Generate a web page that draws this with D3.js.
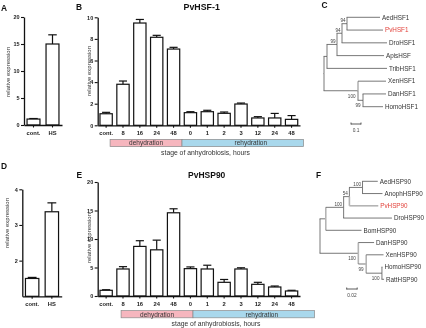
<!DOCTYPE html>
<html>
<head>
<meta charset="utf-8">
<script src="https://cdn.jsdelivr.net/npm/d3@7"></script>
<style>
  html, body { margin: 0; padding: 0; background: #fff; }
  #chart { width: 426px; height: 328px; }
  svg { will-change: transform; -webkit-font-smoothing: antialiased; }
</style>
</head>
<body>
<div id="chart"></div>
<script>
// --------------------
// DATA
// --------------------
const shockCats = ["cont.", "HS"];
const hsfShock = [1.1, 15.0];
const hsfShockErr = [1.2, 16.7];
const hspShock = [1.5, 3.37];
const hspShockErr = [1.53, 3.62];

const stageCats = ["cont.", "8", "16", "24", "48", "0", "1", "2", "3", "12", "24", "48"];
const hsfStage = [1.07, 3.8, 9.47, 8.15, 7.06, 1.17, 1.26, 1.11, 1.97, 0.68, 0.68, 0.55];
const hsfStageErr = [1.2, 4.1, 9.8, 8.33, 7.22, 1.26, 1.39, 1.23, 2.06, 0.8, 1.1, 0.9];
const hspStage = [1.0, 4.74, 8.7, 8.1, 14.6, 4.8, 4.74, 2.4, 4.74, 2.05, 1.58, 0.88];
const hspStageErr = [1.1, 5.15, 9.7, 9.8, 15.3, 5.1, 5.4, 2.9, 4.95, 2.4, 1.75, 1.0];

const phases = ["dehydration", "rehydration"];
const phaseFrom = [1, 5];
const phaseTo = [4, 11];

const ticksA = [0, 5, 10, 15, 20];
const ticksB = [0, 2, 4, 6, 8, 10];
const ticksD = [2, 3, 4];
const ticksE = [0, 5, 10, 15, 20];

// trees, newick; "*" = grey vertical, "**" = grey whole branch
const treeC = "((((((AedHSF1:0.33,PvHSF1:0.36)94:0.05,DroHSF1:0.45)94:0.05,ApisHSF:0.47)99:0.10,TribHSF1:0.60):0.03,(XenHSF1*:0.28,(DanHSF1:0.23,HomoHSF1:0.20)99:0.05)100:0.34);";
const treeF = "(((((AedHSP90:0.029,AnophHSP90:0.038)100:0.025,PvHSP90**:0.055)54:0.011,DroHSP90:0.092)100*:0.034,BomHSP90*:0.068):0.011,(DanHSP90*:0.030,(XenHSP90*:0.033,(HomoHSP90:0.001,RattHSP90:0.004)100*:0.030)99*:0.015)100:0.073);";
const redLeaves = ["PvHSF1", "PvHSP90"];


// --------------------
// SETUP
// --------------------
const width = 426;
const height = 328;
const font = "'Liberation Sans', Arial, sans-serif";
const ink = "#222";

const svg = d3.select("#chart")
  .append("svg")
  .attr("width", width)
  .attr("height", height)
  .style("font-family", font);

svg.append("rect").attr("width", width).attr("height", height).attr("fill", "#fff");


// --------------------
// BAR PANELS
// --------------------
function barPanel(o) {
  const x = d3.scaleBand()
    .domain(d3.range(o.values.length))
    .range(o.xRange)
    .paddingInner(o.pad)
    .paddingOuter(o.pad / 2);

  const y = d3.scaleLinear()
    .domain(o.yDomain)
    .range(o.yRange);

  const g = svg.append("g");
  const bw = x.bandwidth();
  const base = y(o.yDomain[0]);

  // error bars (upper only)
  const err = g.append("g")
    .attr("stroke", "#111")
    .attr("stroke-width", 1.2);
  o.values.forEach((v, i) => {
    const cx = x(i) + bw / 2;
    err.append("line")
      .attr("x1", cx).attr("x2", cx)
      .attr("y1", y(v)).attr("y2", y(o.errs[i]));
    err.append("line")
      .attr("x1", cx - bw * 0.33).attr("x2", cx + bw * 0.33)
      .attr("y1", y(o.errs[i])).attr("y2", y(o.errs[i]));
  });

  g.selectAll("rect.bar")
    .data(o.values)
    .join("rect")
    .attr("class", "bar")
    .attr("x", (d, i) => x(i))
    .attr("y", d => y(d))
    .attr("width", bw)
    .attr("height", d => base - y(d))
    .attr("fill", "#fff")
    .attr("stroke", "#111")
    .attr("stroke-width", 1.2);

  // axes
  const ax = g.append("g")
    .attr("transform", `translate(0,${base})`)
    .call(d3.axisBottom(x)
      .tickSize(2.5)
      .tickSizeOuter(0)
      .tickPadding(3.5)
      .tickFormat(i => o.cats[i]));

  const ay = g.append("g")
    .attr("transform", `translate(${o.xRange[0]},0)`)
    .call(d3.axisLeft(y)
      .tickValues(o.ticks)
      .tickSize(3)
      .tickSizeOuter(0)
      .tickPadding(1.5)
      .tickFormat(d3.format("d")));

  [ax, ay].forEach(a => {
    a.select(".domain").attr("stroke", "#111").attr("stroke-width", 1.3);
    a.selectAll(".tick line").attr("stroke", "#111").attr("stroke-width", 1.1);
    a.selectAll(".tick text")
      .attr("fill", ink)
      .style("font-family", font)
      .style("font-weight", "bold");
  });
  ax.selectAll(".tick text").style("font-size", "5.8px");
  ay.selectAll(".tick text").style("font-size", "5.5px");

  // y label
  svg.append("text")
    .attr("transform", `translate(${o.yLabelX},${o.yLabelY}) rotate(-90)`)
    .attr("text-anchor", "middle")
    .attr("dy", "0.35em")
    .attr("fill", "#333")
    .style("font-size", "6px")
    .text("relative expression");

  return { x, y, bw };
}

function phaseBands(s, top, shift, stageX, stageY) {
  const step = s.x.step();
  const gap = step - s.bw;
  const b0 = s.x(phaseFrom[0]) - 0.4 * step + shift;
  const b1 = s.x(phaseFrom[1]) - gap / 2 + shift;
  const b2 = s.x(phaseTo[1]) + s.bw + 0.35 * step + shift;
  const edges = [[b0, b1], [b1, b2]];
  const fills = ["#f6b6be", "#a9d8ec"];
  const textShift = [0, 8];

  phases.forEach((p, i) => {
    svg.append("rect")
      .attr("x", edges[i][0])
      .attr("y", top)
      .attr("width", edges[i][1] - edges[i][0])
      .attr("height", 7.2)
      .attr("fill", fills[i])
      .attr("stroke", "#8a8a8a")
      .attr("stroke-width", 0.7);
    svg.append("text")
      .attr("x", (edges[i][0] + edges[i][1]) / 2 + textShift[i])
      .attr("y", top + 3.8)
      .attr("dy", "0.35em")
      .attr("text-anchor", "middle")
      .attr("fill", "#333")
      .style("font-size", "6.5px")
      .text(p);
  });

  svg.append("text")
    .attr("x", stageX)
    .attr("y", stageY)
    .attr("dy", "0.35em")
    .attr("text-anchor", "middle")
    .attr("fill", "#333")
    .style("font-size", "6.8px")
    .text("stage of anhydrobiosis, hours");
}

// A
barPanel({
  cats: shockCats, values: hsfShock, errs: hsfShockErr,
  xRange: [24, 62], yRange: [125, 17], yDomain: [0, 20], ticks: ticksA,
  pad: 0.32, yLabelX: 7.5, yLabelY: 72
});

// B
const sB = barPanel({
  cats: stageCats, values: hsfStage, errs: hsfStageErr,
  xRange: [97.7, 300], yRange: [125.3, 17.3], yDomain: [0, 10], ticks: ticksB,
  pad: 0.27, yLabelX: 89.3, yLabelY: 71
});
phaseBands(sB, 139.4, 0, 205.5, 153);

// D
barPanel({
  cats: shockCats, values: hspShock, errs: hspShockErr,
  xRange: [22.3, 61.7], yRange: [296.3, 189.3], yDomain: [1, 4], ticks: ticksD,
  pad: 0.32, yLabelX: 6.8, yLabelY: 223
});

// E
const sE = barPanel({
  cats: stageCats, values: hspStage, errs: hspStageErr,
  xRange: [97.7, 300], yRange: [296, 182], yDomain: [0, 20], ticks: ticksE,
  pad: 0.27, yLabelX: 89.3, yLabelY: 238
});
phaseBands(sE, 310.6, 11, 216, 323.3);


// --------------------
// TREES
// --------------------
function parseNewick(s) {
  let i = 0;
  function node() {
    const n = { children: [] };
    if (s[i] === "(") {
      i++;
      n.children.push(node());
      while (s[i] === ",") { i++; n.children.push(node()); }
      i++;
    }
    let label = "";
    while (i < s.length && !",():;".includes(s[i])) label += s[i++];
    let len = "";
    if (s[i] === ":") {
      i++;
      while (i < s.length && !",();".includes(s[i])) len += s[i++];
    }
    n.grey = label.endsWith("**") ? 2 : label.endsWith("*") ? 1 : 0;
    n.name = label.replace(/\*+$/, "");
    n.length = len === "" ? 0 : +len;
    return n;
  }
  return node();
}

function treePanel(o) {
  const root = d3.hierarchy(parseNewick(o.newick), d => d.children.length ? d.children : null);
  root.eachBefore(d => { d.dist = d.parent ? d.parent.dist + d.data.length : 0; });

  const x = d3.scaleLinear().domain([0, o.xMax]).range(o.xRange);
  const y = d3.scalePoint()
    .domain(root.leaves().map(d => d.data.name))
    .range(o.yRange);

  root.eachAfter(d => {
    d.px = x(d.dist);
    d.py = d.children
      ? (d.children[0].py + d.children[d.children.length - 1].py) / 2
      : y(d.data.name);
  });

  const g = svg.append("g");
  const dark = "#555", grey = "#b4b4b4";

  root.descendants().filter(d => d.parent).forEach(d => {
    const px = d.parent.px, py = d.parent.py;
    g.append("line")
      .attr("x1", px).attr("x2", px)
      .attr("y1", py).attr("y2", d.py)
      .attr("stroke", d.data.grey ? grey : dark)
      .attr("stroke-width", d.data.grey ? 1.6 : 0.8);
    g.append("line")
      .attr("x1", px - (d.data.grey ? 0 : 0.4)).attr("x2", d.px)
      .attr("y1", d.py).attr("y2", d.py)
      .attr("stroke", d.data.grey === 2 ? grey : dark)
      .attr("stroke-width", d.data.grey === 2 ? 1.6 : 0.8);
  });

  // leaf names
  g.selectAll("text.leaf")
    .data(root.leaves())
    .join("text")
    .attr("class", "leaf")
    .attr("x", d => d.px + 2)
    .attr("y", d => d.py)
    .attr("dy", "0.35em")
    .attr("fill", d => redLeaves.includes(d.data.name) ? "#e2423b" : "#333")
    .style("font-size", "6.3px")
    .text(d => d.data.name);

  // bootstrap values
  g.selectAll("text.boot")
    .data(root.descendants().filter(d => d.children && d.parent && d.data.name))
    .join("text")
    .attr("class", "boot")
    .attr("text-anchor", "end")
    .attr("x", d => d.px - (d.py < d.parent.py ? 1.5 : 2.5))
    .attr("y", d => d.py < d.parent.py ? d.py - 1.6 : d.py + 7)
    .attr("fill", "#444")
    .style("font-size", "4.6px")
    .text(d => d.data.name);

  // scale bar
  const len = x(o.barLen) - x(0);
  const sb = g.append("g").attr("stroke", "#333").attr("stroke-width", 0.8);
  sb.append("line").attr("x1", o.barX).attr("x2", o.barX + len).attr("y1", o.barY).attr("y2", o.barY);
  sb.append("line").attr("x1", o.barX).attr("x2", o.barX).attr("y1", o.barY - 1.5).attr("y2", o.barY + 0.5);
  sb.append("line").attr("x1", o.barX + len).attr("x2", o.barX + len).attr("y1", o.barY - 1.5).attr("y2", o.barY + 0.5);
  g.append("text")
    .attr("x", o.barX + len / 2)
    .attr("y", o.barY + 8)
    .attr("text-anchor", "middle")
    .attr("fill", "#444")
    .style("font-size", "4.8px")
    .text(String(o.barLen));
}

treePanel({
  newick: treeC, xMax: 1, xRange: [324, 424], yRange: [17.3, 106.7],
  barLen: 0.1, barX: 351, barY: 124
});

treePanel({
  newick: treeF, xMax: 0.2, xRange: [320, 425], yRange: [181.3, 279.3],
  barLen: 0.02, barX: 346.7, barY: 289
});


// --------------------
// LETTERS & TITLES
// --------------------
const letters = [["A", 1, 10.7], ["B", 76, 10], ["C", 321.5, 8.4], ["D", 1, 169.3], ["E", 76.5, 178.3], ["F", 316, 178.3]];
letters.forEach(([t, lx, ly]) => {
  svg.append("text")
    .attr("x", lx).attr("y", ly)
    .attr("fill", "#111")
    .style("font-size", "8.4px")
    .style("font-weight", "bold")
    .text(t);
});

svg.append("text")
  .attr("x", 201.7).attr("y", 10)
  .attr("text-anchor", "middle")
  .attr("fill", "#111")
  .style("font-size", "8.8px")
  .style("font-weight", "bold")
  .text("PvHSF-1");

svg.append("text")
  .attr("x", 206.7).attr("y", 178.3)
  .attr("text-anchor", "middle")
  .attr("fill", "#111")
  .style("font-size", "8.5px")
  .style("font-weight", "bold")
  .text("PvHSP90");
</script>
</body>
</html>
